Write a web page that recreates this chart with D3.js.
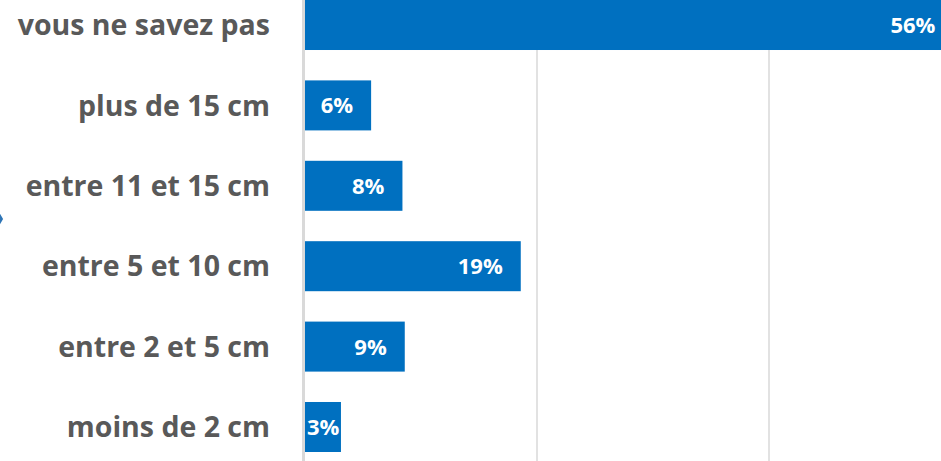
<!DOCTYPE html>
<html><head><meta charset="utf-8">
<script src="https://cdn.jsdelivr.net/npm/d3@7"></script>
<style>html,body{margin:0;padding:0;background:#fff;overflow:hidden}</style>
</head><body>
<svg id="c" width="941" height="461"></svg>
<script>
const categories = ["vous ne savez pas","plus de 15 cm","entre 11 et 15 cm","entre 5 et 10 cm","entre 2 et 5 cm","moins de 2 cm"];
const values = [55.9, 5.7, 8.4, 18.6, 8.6, 3.1];
const valueLabels = ["56%","6%","8%","19%","9%","3%"];
const gridTicks = [20, 40, 60];

const svg = d3.select("#c");
const x = d3.scaleLinear().domain([0, 60]).range([305, 1001]);
const y = d3.scaleBand().domain(categories).range([0, 452]).paddingInner(0.378).paddingOuter(0);

svg.append("g").selectAll("line").data(gridTicks).join("line")
  .attr("x1", d => x(d)).attr("x2", d => x(d))
  .attr("y1", 0).attr("y2", 461)
  .attr("stroke", "#d9d9d9").attr("stroke-width", 1.5);

svg.append("g").selectAll("rect").data(values).join("rect")
  .attr("x", x(0))
  .attr("y", (d, i) => y(categories[i]))
  .attr("width", d => x(d) - x(0))
  .attr("height", y.bandwidth())
  .attr("fill", "#0070c0");

svg.append("line").attr("x1", x(0) - 1.5).attr("x2", x(0) - 1.5)
  .attr("y1", 0).attr("y2", 461).attr("stroke", "#d9d9d9").attr("stroke-width", 3);

svg.append("g").selectAll("text").data(categories).join("text")
  .attr("x", 270)
  .attr("y", d => y(d) + y.bandwidth() / 2)
  .attr("dy", "0.36em")
  .attr("text-anchor", "end")
  .attr("font-family", "'Open Sans', sans-serif")
  .attr("font-weight", "bold")
  .attr("font-size", 28.5)
  .attr("fill", "#595959")
  .text(d => d);

svg.append("g").selectAll("text").data(values).join("text")
  .attr("y", (d, i) => y(categories[i]) + y.bandwidth() / 2)
  .attr("dy", "0.36em")
  .attr("font-family", "'Open Sans', sans-serif")
  .attr("font-weight", "bold")
  .attr("font-size", 22)
  .attr("fill", "#ffffff")
  .text((d, i) => valueLabels[i])
  .each(function(d) {
    const w = this.getComputedTextLength();
    let xr = x(d) - 18;
    if (xr - w < x(0) + 2) xr = x(0) + 2 + w;
    d3.select(this).attr("x", xr).attr("text-anchor", "end");
  });

svg.append("path")
  .attr("d", d3.symbol().type(d3.symbolDiamond).size(90)())
  .attr("transform", "translate(-2,219)")
  .attr("fill", "#2e75b6");
</script>
</body></html>
